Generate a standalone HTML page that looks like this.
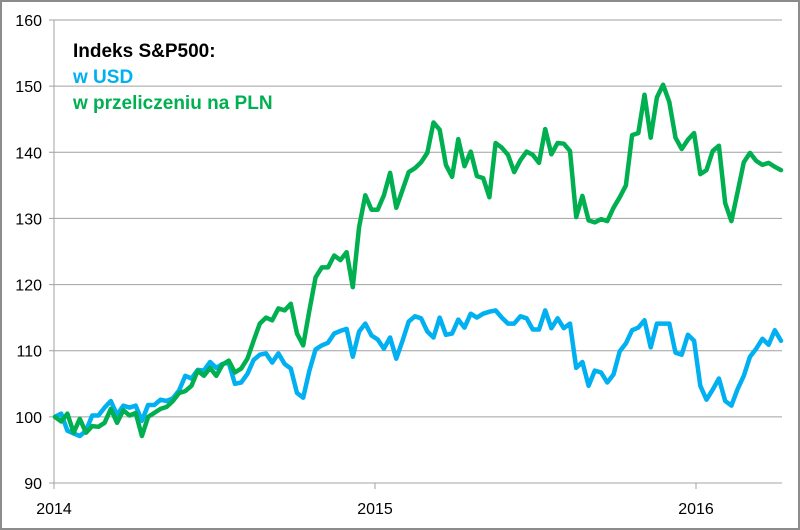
<!DOCTYPE html>
<html><head><meta charset="utf-8"><style>
body{margin:0;background:#fff}
svg{display:block;font-family:"Liberation Sans",sans-serif}
</style></head><body>
<svg id="chart" width="800" height="530">
<rect x="1" y="1" width="798" height="528" fill="#fff" stroke="#8c8c8c" stroke-width="2"/>
<g id="grid"></g>
<g id="yaxis"></g>
<g id="xaxis"></g>
<g id="series"></g>
<g font-weight="bold" font-size="19">
<text x="73" y="57" fill="#000">Indeks S&amp;P500:</text>
<text x="73" y="83" fill="#00b0f0">w USD</text>
<text x="73" y="109" fill="#00b050">w przeliczeniu na PLN</text>
</g>
</svg>
<script>
const yTicks=[90,100,110,120,130,140,150,160];
const xTickLabels=["2014","2015","2016"];
const xTickWeeks=[0,52,104];
const usdValues=[100,100.5,97.9,97.5,97.1,97.9,100.2,100.2,101.4,102.4,100.3,101.7,101.4,101.7,99.4,
101.8,101.8,102.6,102.4,102.8,104,106.2,105.8,107.1,107,108.3,107.4,108,108.2,105,105.2,106.5,108.6,109.4,109.6,108.2,109.6,108,107.3,103.6,102.9,107,110.2,110.8,111.2,112.6,113,113.3,109.1,
112.9,114.1,112.3,111.7,110.3,112,108.8,111.5,114.4,115.2,114.9,112.9,112,115,112.4,112.6,114.7,113.5,115.6,115,115.6,115.9,116.1,115,114.1,114.1,115.2,114.9,113.2,113.2,116.1,113.4,114.9,113.4,114.1,107.4,
108.3,104.7,107,106.7,105.2,106.4,109.9,111.1,113.1,113.5,114.6,110.5,114.1,114.1,114.1,109.7,109.4,112.4,111.5,104.7,102.6,104.1,105.8,102.4,101.7,104.2,106.2,109.1,110.3,111.8,110.9,113.1,111.5];
const plnValues=[100,99.3,100.5,97.6,99.7,97.6,98.6,98.5,99.1,101.2,99.1,101,100.2,100.6,97.1,100,100.6,101.2,101.5,102.4,
103.6,103.9,104.7,107,106.2,107.4,106.2,107.9,108.5,106.7,107.3,108.8,111.5,114.1,115,114.6,116.4,116.1,117.1,112.6,
110.8,116.1,121.1,122.6,122.6,124.4,123.7,124.9,119.6,128.7,133.5,131.3,131.3,133.5,136.9,131.6,134.3,137,137.6,138.5,
139.9,144.5,143.4,138.1,136.3,142,137.9,140.1,136.4,136.1,133.2,141.4,140.7,139.6,137,138.8,140.1,139.6,138.4,143.5,
139.7,141.4,141.3,140.2,130.2,133.4,129.7,129.4,129.9,129.6,131.6,133.2,135,142.6,142.9,148.7,142.2,148.3,150.2,147.6,
142.2,140.5,141.9,142.9,136.7,137.3,140.2,141,132.3,129.6,134,138.5,139.9,138.7,138.1,138.4,137.8,137.3];
const NS="http://www.w3.org/2000/svg";
const L=54,R=782,T=20,B=483,yMin=90,yMax=160;
const pxPerWeek=(375-54)/52;
function y(v){return B-(v-yMin)/(yMax-yMin)*(B-T);}
function xw(w){return L+w*pxPerWeek;}
function xi(i,n){return 55+i*(781-55)/(n-1);}
function mk(tag,attrs,parent){const e=document.createElementNS(NS,tag);for(const k in attrs)e.setAttribute(k,attrs[k]);parent.appendChild(e);return e;}
const grid=document.getElementById('grid'),ya=document.getElementById('yaxis'),xa=document.getElementById('xaxis'),se=document.getElementById('series');
yTicks.forEach(v=>{
 const g=mk('line',{x1:L-5,x2:R,y1:y(v),y2:y(v),stroke:v===90?'#a6a6a6':'#a0a0a0','stroke-width':1},grid);
 
 
 const t=mk('text',{x:42,y:y(v)+6,'text-anchor':'end','font-size':16,fill:'#000'},ya);
 t.textContent=v;
 
 
});
const ax=mk('line',{x1:L,x2:L,y1:T,y2:B+5,stroke:'#a0a0a0','stroke-width':1},ya);


xTickLabels.forEach((lab,k)=>{
 const X=xw(xTickWeeks[k]);
 const tk=mk('line',{x1:X,x2:X,y1:B,y2:B+6,stroke:'#a0a0a0','stroke-width':1},xa);
 
 
 const t=mk('text',{x:X,y:514,'text-anchor':'middle','font-size':16,fill:'#000'},xa);
 t.textContent=lab;
 
 
});
function line(vals,color,name){
 const d=vals.map((v,i)=>(i?'L':'M')+xi(i,vals.length).toFixed(1)+' '+y(v).toFixed(1)).join(' ');
 const p=mk('path',{d:d,fill:'none',stroke:color,'stroke-width':4.5,'stroke-linejoin':'round','stroke-linecap':'round'},se);
 
 
}
line(usdValues,'#00b0f0','line-usd');
line(plnValues,'#00b050','line-pln');
</script>
</body></html>
